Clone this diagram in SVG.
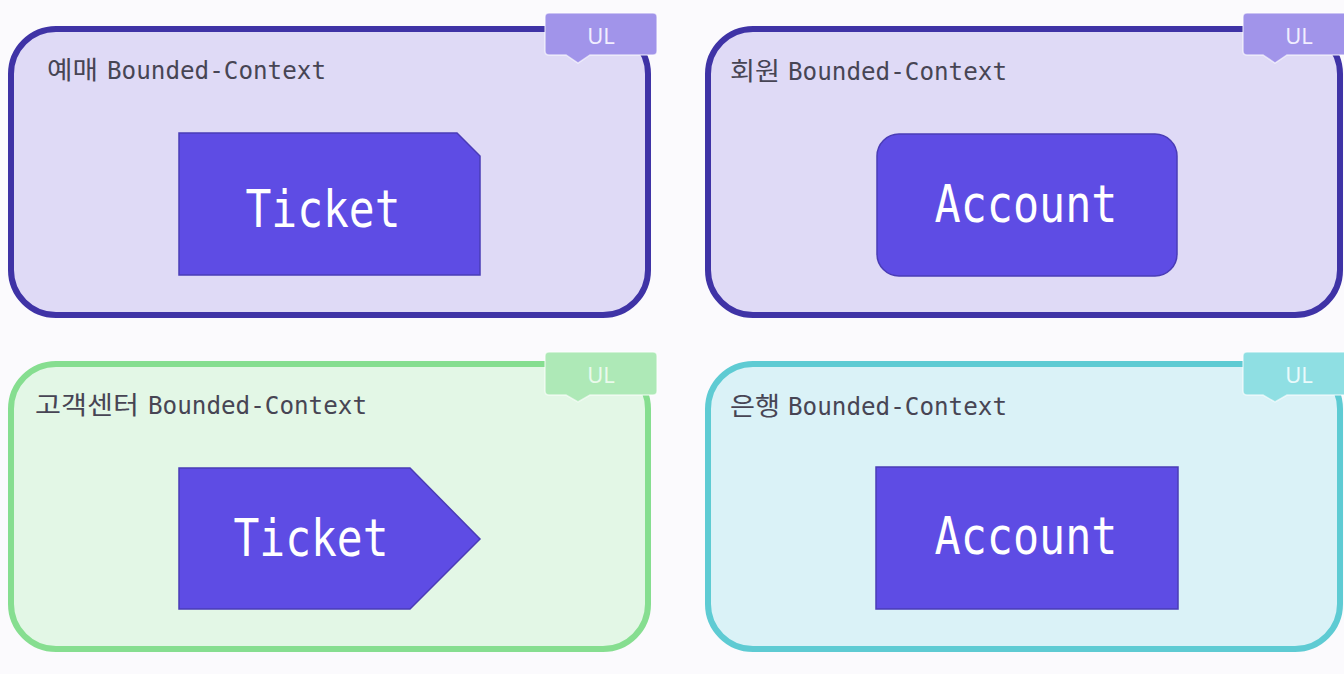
<svg xmlns="http://www.w3.org/2000/svg" width="1344" height="674" viewBox="0 0 1344 674">
<style>
.ctx{stroke-width:6}
.lbl{font-family:"DejaVu Sans Mono","Noto Sans CJK KR",monospace;font-size:25px;fill:#474554}
.ent{fill:#5e4ce4;stroke:#4a3cb6;stroke-width:1.5}
.ent-t{font-family:"DejaVu Sans Mono","Noto Sans CJK KR",monospace;font-size:52px;fill:#ffffff;text-anchor:middle}
.tag-t{font-family:"Noto Sans","Liberation Sans",sans-serif;font-size:22px;text-anchor:middle}
.tag{stroke:#ffffff;stroke-opacity:0.6;stroke-width:1.5}
</style>
<rect width="1344" height="674" fill="#fbfafd"/>

<g id="ctx-reservation">
<rect class="ctx" x="11" y="29" width="637" height="286" rx="45" fill="#dfdaf6" stroke="#3f33a6"/>
<text class="lbl" y="79"><tspan x="47" textLength="51" lengthAdjust="spacingAndGlyphs">예매</tspan><tspan x="107" textLength="219" lengthAdjust="spacingAndGlyphs">Bounded-Context</tspan></text>
<g id="tag-reservation">
<path class="tag" d="M549,13 H653 Q657,13 657,17 V51 Q657,55 653,55 H590 L578,63 L566,55 H549 Q545,55 545,51 V17 Q545,13 549,13 Z" fill="#a194ea"/>
<text class="tag-t" x="601" y="44" fill="#f1eeff">UL</text>
</g>
</g>

<g id="ctx-member">
<rect class="ctx" x="708" y="29" width="632" height="286" rx="45" fill="#dfdaf6" stroke="#3f33a6"/>
<text class="lbl" y="80"><tspan x="730" textLength="50" lengthAdjust="spacingAndGlyphs">회원</tspan><tspan x="788" textLength="219" lengthAdjust="spacingAndGlyphs">Bounded-Context</tspan></text>
<g id="tag-member">
<path class="tag" d="M1247,13 H1350 V55 H1287 L1275,63 L1263,55 H1247 Q1243,55 1243,51 V17 Q1243,13 1247,13 Z" fill="#a194ea"/>
<text class="tag-t" x="1299" y="44" fill="#f1eeff">UL</text>
</g>
</g>

<g id="ctx-cs">
<rect class="ctx" x="11" y="364" width="637" height="285" rx="45" fill="#e3f7e6" stroke="#86de90"/>
<text class="lbl" y="414"><tspan x="35" textLength="104" lengthAdjust="spacingAndGlyphs">고객센터</tspan><tspan x="148" textLength="219" lengthAdjust="spacingAndGlyphs">Bounded-Context</tspan></text>
<g id="tag-cs">
<path class="tag" d="M549,352 H653 Q657,352 657,356 V391 Q657,395 653,395 H590 L578,402 L566,395 H549 Q545,395 545,391 V356 Q545,352 549,352 Z" fill="#aee9b7"/>
<text class="tag-t" x="601" y="383" fill="#eafaec">UL</text>
</g>
</g>

<g id="ctx-bank">
<rect class="ctx" x="708" y="364" width="632" height="285" rx="45" fill="#daf2f7" stroke="#5ecbd3"/>
<text class="lbl" y="415"><tspan x="730" textLength="50" lengthAdjust="spacingAndGlyphs">은행</tspan><tspan x="788" textLength="219" lengthAdjust="spacingAndGlyphs">Bounded-Context</tspan></text>
<g id="tag-bank">
<path class="tag" d="M1247,352 H1350 V395 H1287 L1275,402 L1263,395 H1247 Q1243,395 1243,391 V356 Q1243,352 1247,352 Z" fill="#8fdfe3"/>
<text class="tag-t" x="1299" y="383" fill="#eafafb">UL</text>
</g>
</g>

<g id="ticket-reservation">
<path class="ent" d="M179,133 H457 L480,156 V275 H179 Z"/>
<text class="ent-t" x="323" y="227" textLength="155" lengthAdjust="spacingAndGlyphs">Ticket</text>
</g>

<g id="account-member">
<rect class="ent" x="877" y="134" width="300" height="142" rx="22"/>
<text class="ent-t" x="1026" y="222" textLength="183" lengthAdjust="spacingAndGlyphs">Account</text>
</g>

<g id="ticket-cs">
<path class="ent" d="M179,468 H410 L480,539 L410,609 H179 Z"/>
<text class="ent-t" x="311" y="556" textLength="155" lengthAdjust="spacingAndGlyphs">Ticket</text>
</g>

<g id="account-bank">
<rect class="ent" x="876" y="467" width="302" height="142"/>
<text class="ent-t" x="1026" y="554" textLength="183" lengthAdjust="spacingAndGlyphs">Account</text>
</g>

<g id="connectors"/>
</svg>
